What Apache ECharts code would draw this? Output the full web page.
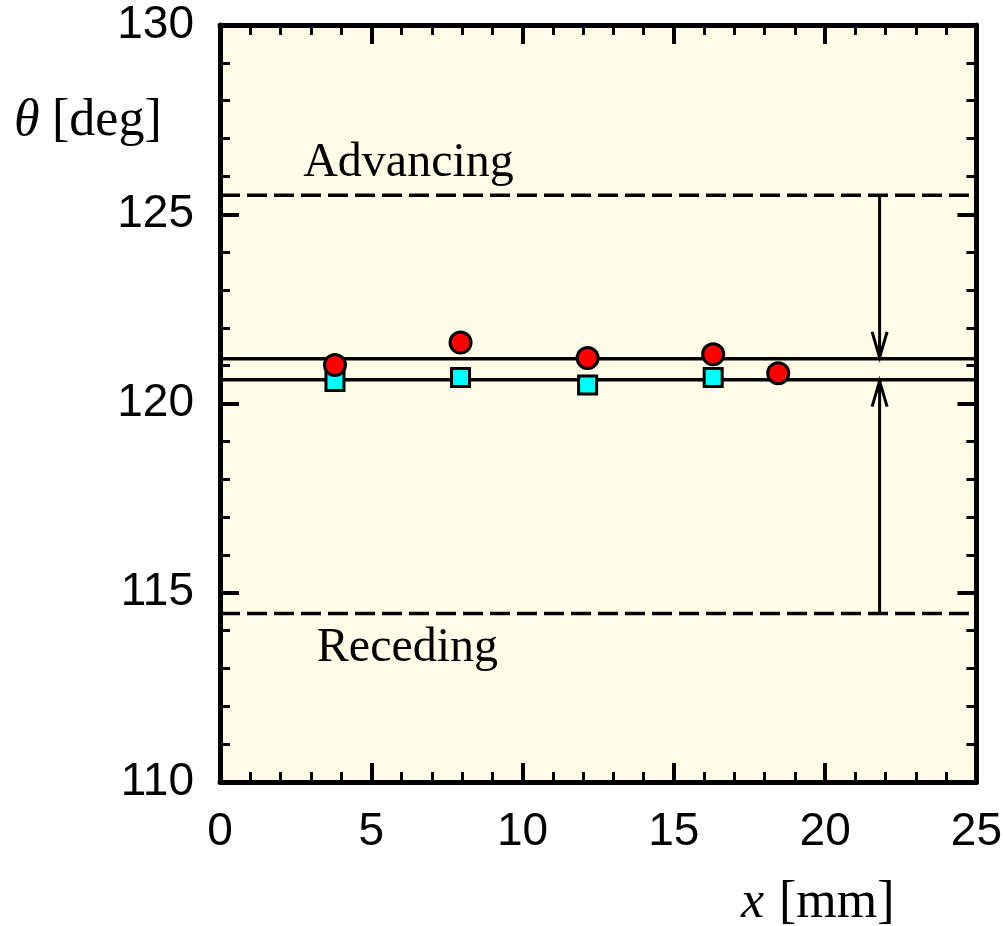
<!DOCTYPE html>
<html>
<head>
<meta charset="utf-8">
<script src="https://cdn.jsdelivr.net/npm/echarts@6/dist/echarts.min.js"></script>
<style>html,body{margin:0;padding:0;background:#fff}#c{width:1005px;height:926px}</style>
</head>
<body>
<div id="c"></div>
<script>
// Data
const xRange = [0, 25];
const yRange = [110, 130];
const xTicks = [0, 5, 10, 15, 20, 25];
const yTicks = [110, 115, 120, 125, 130];
const circleX = [3.8, 7.95, 12.15, 16.3, 18.45];
const circleY = [121.02, 121.61, 121.2, 121.3, 120.8];
const squareX = [3.8, 7.95, 12.15, 16.3];
const squareY = [120.58, 120.69, 120.49, 120.69];
const advancingLevel = 125.5;
const recedingLevel = 114.45;
const upperSolid = 121.18;
const lowerSolid = 120.63;
const arrowX = 21.8;
const annotations = [
  { x: 2.75, y: 126.35, text: 'Advancing' },
  { x: 3.2, y: 113.54, text: 'Receding' }
];

const chart = echarts.init(document.getElementById('c'));
const serif = '"Liberation Serif", "Times New Roman", serif';
const sans = '"Liberation Sans", Arial, sans-serif';

function hline(v) { return [[xRange[0], v], [xRange[1], v]]; }

function axisCommon() {
  return {
    axisLine: { show: true, onZero: false, lineStyle: { color: '#000', width: 5 } },
    axisTick: { show: true, inside: true, length: 19, lineStyle: { color: '#000', width: 4 } },
    minorTick: { show: true, splitNumber: 5, length: 10, lineStyle: { color: '#000', width: 3 } },
    splitLine: { show: false },
    minorSplitLine: { show: false }
  };
}

function arrowRender(params, api) {
  const x = api.value(0);
  const p1 = api.coord([x, api.value(1)]);
  const p2 = api.coord([x, api.value(2)]);
  const dir = p2[1] > p1[1] ? 1 : -1;
  const hl = 27, hw = 7.5;
  return {
    type: 'group',
    children: [
      { type: 'line', shape: { x1: p1[0], y1: p1[1], x2: p2[0], y2: p2[1] - dir * 1.5 }, style: { stroke: '#000', lineWidth: 3 } },
      { type: 'polyline', shape: { points: [[p2[0] - hw, p2[1] - dir * hl], [p2[0], p2[1] - dir * 1.5], [p2[0] + hw, p2[1] - dir * hl]] }, style: { stroke: '#000', lineWidth: 3, fill: null } }
    ]
  };
}

function textRender(params, api) {
  const p = api.coord([api.value(0), api.value(1)]);
  return {
    type: 'text',
    x: p[0], y: p[1],
    style: { text: annotations[params.dataIndex].text, font: '48px ' + serif, fill: '#000', textAlign: 'left', textVerticalAlign: 'middle' }
  };
}

chart.setOption({
  animation: false,
  backgroundColor: '#fff',
  grid: { left: 220, right: 28, top: 25, bottom: 144, show: true, backgroundColor: '#fffde8', borderWidth: 0 },
  xAxis: [
    Object.assign({ type: 'value', min: xRange[0], max: xRange[1], interval: 5, position: 'bottom',
      axisLabel: { show: true, color: '#000', fontFamily: sans, fontSize: 46, margin: 27,
        formatter: v => xTicks.includes(v) ? String(v) : '' } }, axisCommon()),
    Object.assign({ type: 'value', min: xRange[0], max: xRange[1], interval: 5, position: 'top', axisLabel: { show: false } }, axisCommon())
  ],
  yAxis: [
    Object.assign({ type: 'value', min: yRange[0], max: yRange[1], interval: 5, position: 'left',
      axisLabel: { show: true, color: '#000', fontFamily: sans, fontSize: 46, margin: 26,
        formatter: v => yTicks.includes(v) ? String(v) : '' } }, axisCommon()),
    Object.assign({ type: 'value', min: yRange[0], max: yRange[1], interval: 5, position: 'right', axisLabel: { show: false } }, axisCommon())
  ],
  graphic: [
    { type: 'text', left: 14, top: 95, style: { text: 'θ', font: 'italic 52px ' + serif, fill: '#000' } },
    { type: 'text', left: 52, top: 95, style: { text: '[deg]', font: '52px ' + serif, fill: '#000' } },
    { type: 'text', left: 741, top: 877, style: { text: 'x', font: 'italic 52px ' + serif, fill: '#000' } },
    { type: 'text', left: 779, top: 877, style: { text: '[mm]', font: '52px ' + serif, fill: '#000' } }
  ],
  series: [
    { type: 'line', data: hline(advancingLevel), symbol: 'none', lineStyle: { color: '#000', width: 3.5, type: [20, 7] }, z: 2 },
    { type: 'line', data: hline(recedingLevel), symbol: 'none', lineStyle: { color: '#000', width: 3.5, type: [20, 7] }, z: 2 },
    { type: 'line', data: hline(upperSolid), symbol: 'none', lineStyle: { color: '#000', width: 3.5 }, z: 2 },
    { type: 'line', data: hline(lowerSolid), symbol: 'none', lineStyle: { color: '#000', width: 3.5 }, z: 2 },
    { type: 'custom', renderItem: arrowRender, data: [[arrowX, advancingLevel, upperSolid], [arrowX, recedingLevel, lowerSolid]], z: 3, clip: false },
    { type: 'custom', renderItem: textRender, data: annotations.map(a => [a.x, a.y]), z: 3, clip: false },
    { type: 'scatter', data: squareX.map((x, i) => [x, squareY[i]]), symbol: 'rect', symbolSize: 18,
      itemStyle: { color: '#00ffff', borderColor: '#000', borderWidth: 3, opacity: 1 }, z: 4 },
    { type: 'scatter', data: circleX.map((x, i) => [x, circleY[i]]), symbol: 'circle', symbolSize: 21,
      itemStyle: { color: '#ff0000', borderColor: '#000', borderWidth: 3, opacity: 1 }, z: 5 }
  ]
});
</script>
</body>
</html>
